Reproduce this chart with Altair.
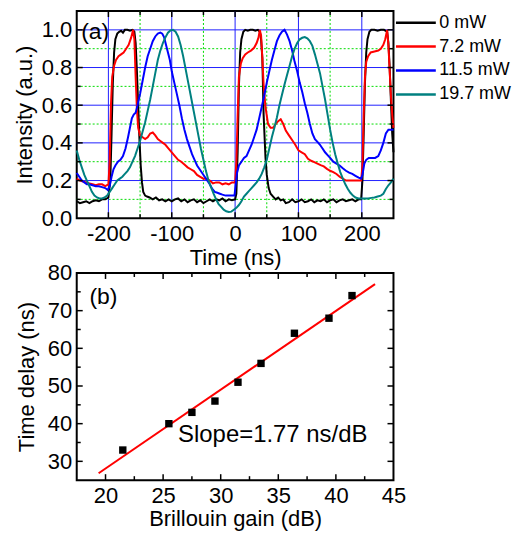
import altair as alt
import pandas as pd

# ---------------- panel (a): pulse traces ----------------
black_t = [-250,-245,-240,-235,-230,-225,-220,-215,-210,-205,-200,-197,-195,-193,-191,-189,-186,-183,-180,-177,-174,-170,-166,-162,-159,-157,-155,-153,-151,-149,-147,-145,-142,-139,-135,-130,-125,-120,-115,-110,-105,-100,-95,-90,-85,-80,-75,-70,-65,-60,-55,-50,-45,-40,-35,-30,-25,-20,-15,-10,-5,0,2,4,6,8,10,13,16,20,24,28,32,36,39,41,43,45,48,50,53,56,60,64,68,72,76,80,85,90,95,100,105,110,115,120,125,130,135,140,145,150,155,160,165,170,175,180,185,190,195,199,201,203,205,207,209,212,215,220,225,230,235,240,242,244,246,248,250]
black_y = [0.09,0.08,0.085,0.09,0.08,0.09,0.095,0.09,0.1,0.1,0.11,0.2,0.45,0.72,0.88,0.95,0.98,0.99,0.995,0.985,1.0,1.0,0.995,1.0,0.99,0.93,0.78,0.6,0.42,0.28,0.19,0.14,0.12,0.115,0.11,0.1,0.11,0.095,0.1,0.09,0.1,0.09,0.1,0.105,0.09,0.1,0.085,0.095,0.1,0.085,0.095,0.08,0.09,0.1,0.09,0.1,0.095,0.105,0.09,0.1,0.095,0.1,0.13,0.35,0.7,0.88,0.95,0.99,1.0,0.995,1.0,1.0,0.995,1.0,0.99,0.95,0.85,0.55,0.32,0.23,0.16,0.13,0.115,0.1,0.11,0.095,0.1,0.08,0.085,0.1,0.085,0.09,0.1,0.085,0.09,0.1,0.085,0.095,0.09,0.1,0.085,0.095,0.1,0.085,0.095,0.1,0.09,0.095,0.1,0.09,0.1,0.1,0.2,0.45,0.72,0.88,0.95,0.99,1.0,1.0,0.995,1.0,1.0,0.99,0.93,0.8,0.62,0.45,0.35]

red_t = [-250,-245,-240,-235,-230,-225,-220,-215,-210,-205,-200,-198,-196,-194,-191,-188,-184,-180,-176,-172,-168,-164,-161,-159,-157,-155,-153,-150,-146,-142,-138,-134,-130,-126,-122,-118,-114,-110,-105,-100,-95,-90,-85,-80,-75,-70,-65,-60,-55,-50,-45,-40,-35,-30,-25,-20,-15,-10,-5,0,2,4,6,9,12,16,20,25,30,34,37,39,41,43,45,48,52,56,60,64,68,72,76,80,85,90,95,100,105,110,115,120,125,130,135,140,145,150,155,160,165,170,175,180,185,190,195,199,201,203,205,207,210,214,220,226,230,234,237,240,242,244,246,248,250]
red_y = [0.21,0.2,0.195,0.19,0.185,0.18,0.175,0.18,0.18,0.17,0.18,0.3,0.6,0.75,0.81,0.84,0.86,0.87,0.88,0.9,0.92,0.96,1.0,0.95,0.75,0.58,0.48,0.44,0.43,0.42,0.43,0.45,0.455,0.44,0.42,0.41,0.4,0.39,0.37,0.35,0.33,0.31,0.3,0.285,0.27,0.26,0.25,0.23,0.22,0.21,0.21,0.2,0.185,0.19,0.19,0.18,0.185,0.18,0.19,0.19,0.3,0.54,0.75,0.82,0.85,0.87,0.88,0.89,0.905,0.93,0.96,1.0,0.97,0.85,0.71,0.59,0.5,0.48,0.48,0.5,0.515,0.525,0.5,0.465,0.44,0.415,0.39,0.36,0.35,0.34,0.315,0.305,0.298,0.29,0.282,0.275,0.262,0.252,0.245,0.235,0.22,0.21,0.2,0.2,0.2,0.2,0.2,0.2,0.28,0.55,0.75,0.83,0.86,0.88,0.885,0.89,0.9,0.92,0.95,1.0,0.92,0.78,0.65,0.55,0.48]

blue_t = [-250,-246,-242,-238,-234,-230,-225,-220,-215,-210,-205,-201,-198,-195,-192,-189,-185,-181,-177,-173,-169,-166,-163,-160,-157,-154,-150,-146,-142,-138,-134,-130,-126,-122,-118,-115,-112,-109,-106,-103,-100,-96,-92,-88,-84,-80,-76,-72,-68,-64,-60,-56,-52,-48,-44,-40,-36,-32,-28,-24,-20,-15,-10,-5,-1,1,3,6,10,14,18,22,26,30,34,38,42,46,50,54,58,62,66,70,74,78,82,86,90,94,98,102,106,110,114,118,122,126,130,134,138,142,146,150,155,160,165,170,175,180,185,190,195,199,201,204,207,211,216,221,226,230,234,238,242,246,250]
blue_y = [0.24,0.22,0.2,0.19,0.18,0.18,0.175,0.17,0.17,0.165,0.16,0.15,0.17,0.22,0.26,0.28,0.3,0.31,0.33,0.37,0.43,0.48,0.53,0.55,0.56,0.6,0.66,0.73,0.8,0.86,0.9,0.94,0.965,0.98,0.985,0.98,0.96,0.92,0.88,0.84,0.78,0.72,0.66,0.6,0.53,0.47,0.42,0.38,0.34,0.31,0.28,0.26,0.24,0.22,0.2,0.18,0.155,0.14,0.135,0.13,0.125,0.12,0.12,0.12,0.12,0.18,0.24,0.28,0.3,0.32,0.33,0.36,0.39,0.43,0.47,0.53,0.59,0.65,0.72,0.78,0.84,0.89,0.94,0.97,0.99,1.0,0.975,0.94,0.89,0.83,0.78,0.72,0.67,0.61,0.56,0.5,0.45,0.42,0.405,0.39,0.37,0.35,0.335,0.32,0.3,0.29,0.28,0.265,0.252,0.242,0.235,0.225,0.215,0.21,0.23,0.29,0.31,0.32,0.32,0.32,0.33,0.36,0.4,0.45,0.47,0.47,0.47]

teal_t = [-250,-246,-242,-238,-234,-230,-226,-222,-218,-214,-210,-206,-202,-198,-194,-190,-186,-182,-178,-174,-170,-166,-162,-158,-154,-150,-146,-142,-138,-134,-130,-126,-122,-118,-114,-110,-106,-102,-98,-94,-90,-86,-82,-78,-74,-70,-66,-62,-58,-54,-50,-46,-42,-38,-34,-30,-26,-22,-18,-14,-10,-6,-2,2,6,10,14,18,22,26,30,34,38,42,46,50,54,58,62,66,70,74,78,82,86,90,94,98,102,106,110,114,118,122,126,130,134,138,142,146,150,154,158,162,166,170,174,178,182,186,190,195,200,205,210,215,220,225,230,234,238,242,246,250]
teal_y = [0.36,0.31,0.27,0.23,0.2,0.17,0.14,0.12,0.11,0.105,0.105,0.11,0.12,0.14,0.16,0.18,0.2,0.21,0.22,0.235,0.25,0.27,0.3,0.33,0.37,0.41,0.46,0.51,0.57,0.63,0.7,0.77,0.84,0.89,0.93,0.96,0.985,0.997,1.0,0.99,0.965,0.92,0.86,0.79,0.72,0.65,0.58,0.51,0.44,0.37,0.31,0.25,0.2,0.165,0.13,0.1,0.075,0.06,0.045,0.037,0.033,0.035,0.045,0.055,0.07,0.09,0.115,0.13,0.145,0.16,0.175,0.19,0.21,0.235,0.27,0.31,0.37,0.43,0.48,0.535,0.6,0.656,0.71,0.76,0.81,0.86,0.9,0.93,0.95,0.958,0.962,0.955,0.94,0.915,0.87,0.82,0.77,0.7,0.63,0.55,0.47,0.4,0.34,0.29,0.245,0.21,0.18,0.155,0.135,0.12,0.11,0.105,0.105,0.105,0.105,0.108,0.11,0.115,0.12,0.13,0.155,0.175,0.19,0.21]

series_names = ["0 mW", "7.2 mW", "11.5 mW", "19.7 mW"]
series_colors = ["#000000", "#ff0000", "#0000ff", "#008080"]

a_x_major = [-200, -100, 0, 100, 200]
a_x_minor = [-150, -50, 50, 150]
a_y_labels = [0.0, 0.2, 0.4, 0.6, 0.8, 1.0]
a_y_major = [0.2, 0.4, 0.6, 0.8, 1.0]
a_y_minor = [0.1, 0.3, 0.5, 0.7, 0.9]
a_tag_x, a_tag_y, a_tag = [-243], [0.99], ["(a)"]

# ---------------- panel (b): delay vs gain ----------------
gain = [21.5, 25.5, 27.5, 29.5, 31.5, 33.5, 36.4, 39.4, 41.4]
delay = [33, 40, 43, 46, 51, 56, 64, 68, 74]
fit_extent = [19.4, 43.4]
b_x_major = [20, 25, 30, 35, 40]
b_x_labels = [20, 25, 30, 35, 40, 45]
b_x_minor = [22.5, 27.5, 32.5, 37.5, 42.5]
b_y_major = [30, 40, 50, 60, 70]
b_y_labels = [30, 40, 50, 60, 70, 80]
b_y_minor = [35, 45, 55, 65, 75]
b_tag_x, b_tag_y, b_tag = [18.6], [73.7], ["(b)"]
slope_x, slope_y, slope_text = [26.3], [37.0], ["Slope=1.77 ns/dB"]

W, H = 318, 208
FS_LAB, FS_TITLE = 22, 22


def axis(values, title, tp, fmt=None, expr=None):
    kw = dict(values=values, title=title, ticks=False, domain=False, grid=False,
              labelFontSize=FS_LAB, titleFontSize=FS_TITLE, titleFontWeight="normal",
              labelFlush=False, labelOverlap=False, labelColor="black", titleColor="black",
              labelPadding=5, titlePadding=tp)
    if fmt:
        kw["format"] = fmt
    if expr:
        kw["labelExpr"] = expr
    return alt.Axis(**kw)


rows = []
for name, ts, ys in zip(series_names, [black_t, red_t, blue_t, teal_t], [black_y, red_y, blue_y, teal_y]):
    for t, v in zip(ts, ys):
        rows.append({"t": t, "I": v, "series": name})
df_a = pd.DataFrame(rows)

xs_a = alt.Scale(domain=[-250, 250], nice=False, zero=False)
ys_a = alt.Scale(domain=[0, 1.1], nice=False, zero=False)
xs_b = alt.Scale(domain=[17.5, 45], nice=False, zero=False)
ys_b = alt.Scale(domain=[25, 80], nice=False, zero=False)
ax_a_x = axis(a_x_major, "Time (ns)", 3, expr="'' + datum.value")
ax_a_y = axis(a_y_labels, "Intensity (a.u.)", 5, fmt=".1f")
ax_b_x = axis(b_x_labels, "Brillouin gain (dB)", 3)
ax_b_y = axis(b_y_labels, "Time delay (ns)", 9)


def X(field, sc, ax):
    return alt.X(field, scale=sc, axis=ax)


def Y(field, sc, ax):
    return alt.Y(field, scale=sc, axis=ax)


def tick_layers(xv, yv, xs, ys, axx, axy, length):
    out = []
    if xv:
        d = alt.Chart(pd.DataFrame({"v": xv}))
        out.append(d.mark_rule(color="black", strokeWidth=1.5).encode(
            x=X("v:Q", xs, axx), y=alt.value(H), y2=alt.value(H - length)))
        out.append(d.mark_rule(color="black", strokeWidth=1.5).encode(
            x=X("v:Q", xs, axx), y=alt.value(0), y2=alt.value(length)))
    if yv:
        d = alt.Chart(pd.DataFrame({"v": yv}))
        out.append(d.mark_rule(color="black", strokeWidth=1.5).encode(
            y=Y("v:Q", ys, axy), x=alt.value(0), x2=alt.value(length)))
        out.append(d.mark_rule(color="black", strokeWidth=1.5).encode(
            y=Y("v:Q", ys, axy), x=alt.value(W), x2=alt.value(W - length)))
    return out


# grids for (a)
gx_major = alt.Chart(pd.DataFrame({"g": a_x_major})).mark_rule(color="#2020ff", strokeWidth=1).encode(
    x=X("g:Q", xs_a, ax_a_x))
gx_minor = alt.Chart(pd.DataFrame({"g": a_x_minor})).mark_rule(color="#00dd00", strokeWidth=1, strokeDash=[2, 2]).encode(
    x=X("g:Q", xs_a, ax_a_x))
gy_major = alt.Chart(pd.DataFrame({"g": a_y_major})).mark_rule(color="#2020ff", strokeWidth=1).encode(
    y=Y("g:Q", ys_a, ax_a_y))
gy_minor = alt.Chart(pd.DataFrame({"g": a_y_minor})).mark_rule(color="#00dd00", strokeWidth=1, strokeDash=[2, 2]).encode(
    y=Y("g:Q", ys_a, ax_a_y))

lines = alt.Chart(df_a).mark_line(strokeWidth=2).encode(
    x=X("t:Q", xs_a, ax_a_x),
    y=Y("I:Q", ys_a, ax_a_y),
    color=alt.Color("series:N", scale=alt.Scale(domain=series_names, range=series_colors),
                    legend=alt.Legend(title=None, orient="none", legendX=W + 1, legendY=0, padding=0,
                                      symbolType="stroke", symbolSize=1600, symbolStrokeWidth=2.5,
                                      labelFontSize=18, labelOffset=2, clipHeight=23.4, rowPadding=0,
                                      labelColor="black")),
    order=alt.Order("t:Q"),
    detail="series:N",
)

tag_a = alt.Chart(pd.DataFrame({"x": a_tag_x, "y": a_tag_y, "s": a_tag})).mark_text(
    align="left", baseline="middle", fontSize=23, color="black").encode(
    x=X("x:Q", xs_a, ax_a_x), y=Y("y:Q", ys_a, ax_a_y), text="s:N")

top = alt.layer(
    gx_minor, gy_minor, gx_major, gy_major, lines, tag_a,
    *tick_layers(a_x_major, a_y_major, xs_a, ys_a, ax_a_x, ax_a_y, 6),
    *tick_layers(a_x_minor, a_y_minor, xs_a, ys_a, ax_a_x, ax_a_y, 4),
).properties(width=W, height=H)

df_b = pd.DataFrame({"gain": gain, "delay": delay})
fit = alt.Chart(df_b).transform_regression("gain", "delay", extent=fit_extent).mark_line(
    color="#ff0000", strokeWidth=2).encode(
    x=X("gain:Q", xs_b, ax_b_x), y=Y("delay:Q", ys_b, ax_b_y))
pts = alt.Chart(df_b).mark_point(shape="square", filled=True, size=55, color="black", opacity=1).encode(
    x=X("gain:Q", xs_b, ax_b_x), y=Y("delay:Q", ys_b, ax_b_y))
tag_b = alt.Chart(pd.DataFrame({"x": b_tag_x, "y": b_tag_y, "s": b_tag})).mark_text(
    align="left", baseline="middle", fontSize=23, color="black").encode(
    x=X("x:Q", xs_b, ax_b_x), y=Y("y:Q", ys_b, ax_b_y), text="s:N")
slope = alt.Chart(pd.DataFrame({"x": slope_x, "y": slope_y, "s": slope_text})).mark_text(
    align="left", baseline="middle", fontSize=24, color="black").encode(
    x=X("x:Q", xs_b, ax_b_x), y=Y("y:Q", ys_b, ax_b_y), text="s:N")

bottom = alt.layer(
    fit, pts, tag_b, slope,
    *tick_layers(b_x_major, b_y_major, xs_b, ys_b, ax_b_x, ax_b_y, 6),
    *tick_layers(b_x_minor, b_y_minor, xs_b, ys_b, ax_b_x, ax_b_y, 4),
).properties(width=W, height=H)

chart = alt.vconcat(top, bottom, spacing=55, bounds="flush").resolve_scale(color="independent").resolve_legend(
    color="independent").properties(
    padding={"left": 4, "top": 0, "right": 0, "bottom": 0}
).configure(font="Liberation Sans").configure_view(stroke="black", strokeWidth=2)

chart.save("out.html", embed_options={"renderer": "svg", "actions": False})
